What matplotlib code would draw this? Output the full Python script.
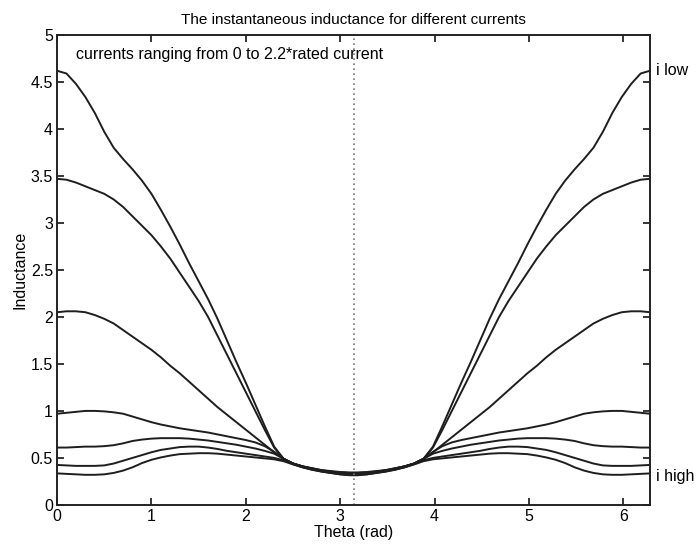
import numpy as np
import matplotlib
matplotlib.use("Agg")
import matplotlib.pyplot as plt

plt.rcParams['font.family'] = ['Liberation Sans', 'DejaVu Sans']

# rotor angle, first half of the period (the curves are symmetric about pi)
theta_half = np.array([0.0, 0.1, 0.2, 0.3, 0.4, 0.5, 0.6, 0.7, 0.8, 0.9,
                       1.0, 1.1, 1.2, 1.3, 1.4, 1.5, 1.6, 1.7, 1.8, 1.9,
                       2.0, 2.1, 2.2, 2.3, 2.4, 2.5, 2.6, 2.7, 2.8, 2.9,
                       3.0, 3.1, np.pi])

# inductance for increasing current, lowest current first
L_i1 = [4.62, 4.59, 4.48, 4.34, 4.17, 3.97, 3.80, 3.68, 3.57, 3.45,
        3.31, 3.14, 2.96, 2.77, 2.57, 2.38, 2.19, 1.98, 1.75, 1.52,
        1.30, 1.07, 0.84, 0.62, 0.49, 0.44, 0.41, 0.39, 0.37, 0.36,
        0.35, 0.345, 0.345]
L_i2 = [3.47, 3.46, 3.43, 3.39, 3.35, 3.31, 3.25, 3.17, 3.07, 2.97,
        2.87, 2.75, 2.62, 2.47, 2.32, 2.17, 2.00, 1.80, 1.60, 1.40,
        1.20, 1.00, 0.80, 0.61, 0.49, 0.44, 0.41, 0.39, 0.37, 0.355,
        0.345, 0.34, 0.34]
L_i3 = [2.05, 2.06, 2.06, 2.05, 2.02, 1.98, 1.93, 1.86, 1.79, 1.72,
        1.65, 1.57, 1.48, 1.40, 1.31, 1.22, 1.13, 1.04, 0.96, 0.88,
        0.80, 0.72, 0.64, 0.56, 0.49, 0.44, 0.41, 0.385, 0.365, 0.35,
        0.34, 0.335, 0.335]
L_i4 = [0.97, 0.98, 0.99, 1.00, 1.00, 0.995, 0.985, 0.97, 0.94, 0.91,
        0.88, 0.855, 0.835, 0.815, 0.80, 0.785, 0.77, 0.75, 0.73, 0.71,
        0.69, 0.665, 0.625, 0.565, 0.49, 0.44, 0.41, 0.385, 0.365, 0.35,
        0.335, 0.33, 0.33]
L_i5 = [0.61, 0.61, 0.615, 0.62, 0.62, 0.625, 0.635, 0.655, 0.68, 0.695,
        0.705, 0.71, 0.71, 0.71, 0.705, 0.695, 0.685, 0.67, 0.655, 0.64,
        0.62, 0.60, 0.575, 0.545, 0.49, 0.44, 0.405, 0.38, 0.36, 0.345,
        0.33, 0.325, 0.325]
L_i6 = [0.425, 0.42, 0.415, 0.415, 0.415, 0.42, 0.44, 0.47, 0.50, 0.53,
        0.56, 0.585, 0.60, 0.615, 0.62, 0.62, 0.61, 0.595, 0.575, 0.56,
        0.545, 0.53, 0.515, 0.50, 0.475, 0.435, 0.40, 0.375, 0.355, 0.34,
        0.325, 0.32, 0.32]
L_i7 = [0.335, 0.33, 0.325, 0.32, 0.32, 0.325, 0.34, 0.365, 0.40, 0.445,
        0.48, 0.505, 0.525, 0.54, 0.545, 0.55, 0.55, 0.545, 0.535, 0.525,
        0.515, 0.505, 0.495, 0.485, 0.465, 0.43, 0.40, 0.375, 0.355, 0.34,
        0.325, 0.315, 0.315]
curves = [L_i1, L_i2, L_i3, L_i4, L_i5, L_i6, L_i7]

theta = np.concatenate([theta_half, 2 * np.pi - theta_half[::-1][1:]])

fig = plt.figure(figsize=(6.96, 5.47), dpi=100)
ax = fig.add_axes([0.082, 0.077, 0.852, 0.859])

for L in curves:
    L = np.asarray(L)
    ax.plot(theta, np.concatenate([L, L[::-1][1:]]), color='#1e1e1e', lw=1.4,
            solid_joinstyle='round')

ax.axvline(np.pi, color='#777777', lw=1.2, ls=(0, (1, 2)))

ax.set_xlim(0, 2 * np.pi)
ax.set_ylim(0, 5)
ax.set_xticks(np.arange(0, 7, 1))
ax.set_yticks(np.arange(0, 5.01, 0.5))
ax.set_yticklabels(['0', '0.5', '1', '1.5', '2', '2.5', '3', '3.5', '4', '4.5', '5'])
ax.tick_params(direction='in', top=True, right=True, length=5, width=1.1,
               labelsize=11.5, pad=3)
for s in ax.spines.values():
    s.set_linewidth(1.4)
    s.set_color('#222222')

ax.set_title('The instantaneous inductance for different currents', fontsize=11, pad=8)
ax.set_xlabel('Theta (rad)', fontsize=11.5, labelpad=1)
ax.set_ylabel('Inductance', fontsize=11.5, labelpad=2)

ax.text(0.2, 4.79, 'currents ranging from 0 to 2.2*rated current', fontsize=11.5,
        va='center', ha='left')
ax.text(2 * np.pi + 0.06, L_i1[0], 'i low', fontsize=11.5, va='center', ha='left',
        clip_on=False)
ax.text(2 * np.pi + 0.06, L_i7[0] - 0.03, 'i high', fontsize=11.5, va='center', ha='left',
        clip_on=False)

fig.savefig('out.png', dpi=100)
